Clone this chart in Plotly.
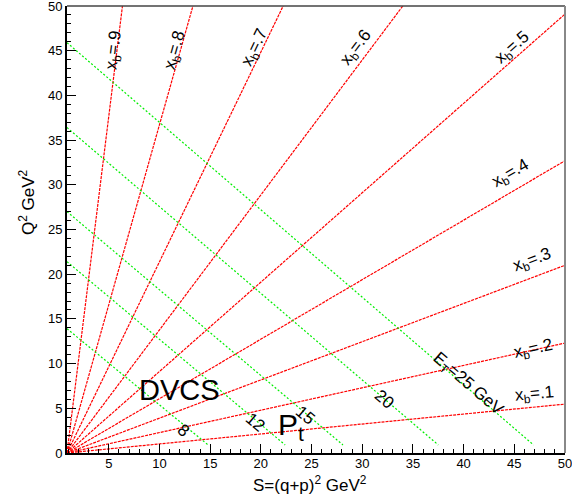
import math
import plotly.graph_objects as go

# ---- data ----
M2 = 0.88  # S at Q^2 = 0 (proton mass squared)

# constant x_B lines: start at (M2, 0), end point
xb_labels = [".1", ".2", ".3", ".4", ".5", ".6", ".7", ".8", ".9"]
xb_end_S = [50.0, 50.0, 50.0, 50.0, 50.0, 34.0, 22.2, 13.3, 6.35]
xb_end_Q2 = [5.47, 12.3, 21.0, 32.7, 49.1, 50.0, 50.0, 50.0, 50.0]

# constant energy lines (green): start on left axis, end near Q^2 ~ 0.9
E_labels = ["8", "12", "15", "20", "E<sub>T</sub>=25 GeV"]
E_start_Q2 = [13.9, 21.4, 27.0, 36.4, 45.9]
E_end_S = [14.8, 22.4, 28.1, 37.5, 46.9]
E_end_Q2 = [0.9, 0.9, 0.9, 0.9, 0.9]

x_ticks = [5, 10, 15, 20, 25, 30, 35, 40, 45, 50]
y_ticks = [0, 5, 10, 15, 20, 25, 30, 35, 40, 45, 50]

# label positions (data coords)
xb_lab_S = [46.95, 46.85, 46.75, 44.67, 44.87, 29.46, 19.47, 11.57, 5.54]
xb_lab_Q2 = [6.47, 11.5, 21.43, 31.25, 45.3, 45.3, 45.3, 45.0, 45.0]
E_lab_S = [12.36, 19.47, 24.41, 32.22, 40.42]
E_lab_Q2 = [2.57, 3.46, 4.24, 6.03, 7.59]

# ---- figure geometry ----
W, H = 572, 504
ML, MR, MT, MB = 67, 7, 6, 51
XR = [M2, 50]
YR = [0, 50]
pw = W - ML - MR
ph = H - MT - MB
sx = pw / (XR[1] - XR[0])
sy = ph / (YR[1] - YR[0])

FONT = "Liberation Sans, Arial, Helvetica, sans-serif"

fig = go.Figure()

for lab, s1, q1 in zip(xb_labels, xb_end_S, xb_end_Q2):
    fig.add_trace(go.Scatter(x=[M2, s1], y=[0, q1], mode="lines",
                             line=dict(color="#ff0000", width=1.2, dash="3px,1px"),
                             showlegend=False, hoverinfo="skip"))

for lab, q0, s1, q1 in zip(E_labels, E_start_Q2, E_end_S, E_end_Q2):
    fig.add_trace(go.Scatter(x=[M2, s1], y=[q0, q1], mode="lines",
                             line=dict(color="#00ee00", width=1.2, dash="2px,2px"),
                             showlegend=False, hoverinfo="skip"))

ann = []
for lab, s1, q1, ls, lq in zip(xb_labels, xb_end_S, xb_end_Q2, xb_lab_S, xb_lab_Q2):
    ang = math.degrees(math.atan2(q1 * sy, (s1 - M2) * sx))
    ann.append(dict(x=ls, y=lq, xref="x", yref="y", text="x<sub>b</sub>=" + lab,
                    textangle=-ang, showarrow=False, xanchor="center", yanchor="middle",
                    font=dict(family=FONT, size=17, color="black")))

for lab, q0, s1, q1, ls, lq in zip(E_labels, E_start_Q2, E_end_S, E_end_Q2, E_lab_S, E_lab_Q2):
    ang = math.degrees(math.atan2((q0 - q1) * sy, (s1 - M2) * sx))
    ann.append(dict(x=ls, y=lq, xref="x", yref="y", text=lab,
                    textangle=ang, showarrow=False, xanchor="center", yanchor="middle",
                    font=dict(family=FONT, size=17, color="black")))

ann.append(dict(x=11.97, y=7.03, xref="x", yref="y", text="DVCS", showarrow=False,
                xanchor="center", yanchor="middle",
                font=dict(family=FONT, size=29, color="black")))
ann.append(dict(x=23.0, y=3.0, xref="x", yref="y", text="P<sub>t</sub>", showarrow=False,
                xanchor="center", yanchor="middle",
                font=dict(family=FONT, size=30, color="black")))

# axis titles
ann.append(dict(x=(310 - ML) / pw, y=(H - MB - 484) / ph, xref="paper", yref="paper",
                text="S=(q+p)<sup>2</sup> GeV<sup>2</sup>", showarrow=False,
                xanchor="center", yanchor="middle",
                font=dict(family=FONT, size=17, color="black")))
ann.append(dict(x=(27 - ML) / pw, y=(H - MB - 202) / ph, xref="paper", yref="paper",
                text="Q<sup>2</sup> GeV<sup>2</sup>", textangle=-90, showarrow=False,
                xanchor="center", yanchor="middle",
                font=dict(family=FONT, size=17, color="black")))

axis_common = dict(showgrid=False, zeroline=False, showline=True, linecolor="black",
                   linewidth=2, ticks="inside", ticklen=9, tickwidth=1, tickcolor="black",
                   automargin=False, ticklabeloverflow="allow",
                   tickfont=dict(family=FONT, size=13, color="black"),
                   minor=dict(ticks="inside", ticklen=4, tickwidth=1, tickcolor="black",
                              dtick=1, tick0=0, showgrid=False))

fig.update_layout(
    width=W, height=H,
    margin=dict(l=ML, r=MR, t=MT, b=MB, autoexpand=False),
    paper_bgcolor="white", plot_bgcolor="white",
    xaxis=dict(range=XR, tickvals=x_ticks, ticktext=[str(v) for v in x_ticks],
               ticklabelstandoff=-3, **axis_common),
    yaxis=dict(range=YR, tickvals=y_ticks, ticktext=[str(v) for v in y_ticks], **axis_common),
    annotations=ann,
    shapes=[
        dict(type="line", xref="paper", yref="paper", x0=0, x1=1, y0=1, y1=1,
             line=dict(color="#444444", width=1.5)),
        dict(type="line", xref="paper", yref="paper", x0=1, x1=1, y0=0, y1=1,
             line=dict(color="#888888", width=2)),
    ],
)

fig.write_html("out.html", config={"displayModeBar": False},
               post_script="document.body.style.margin='0px';")
